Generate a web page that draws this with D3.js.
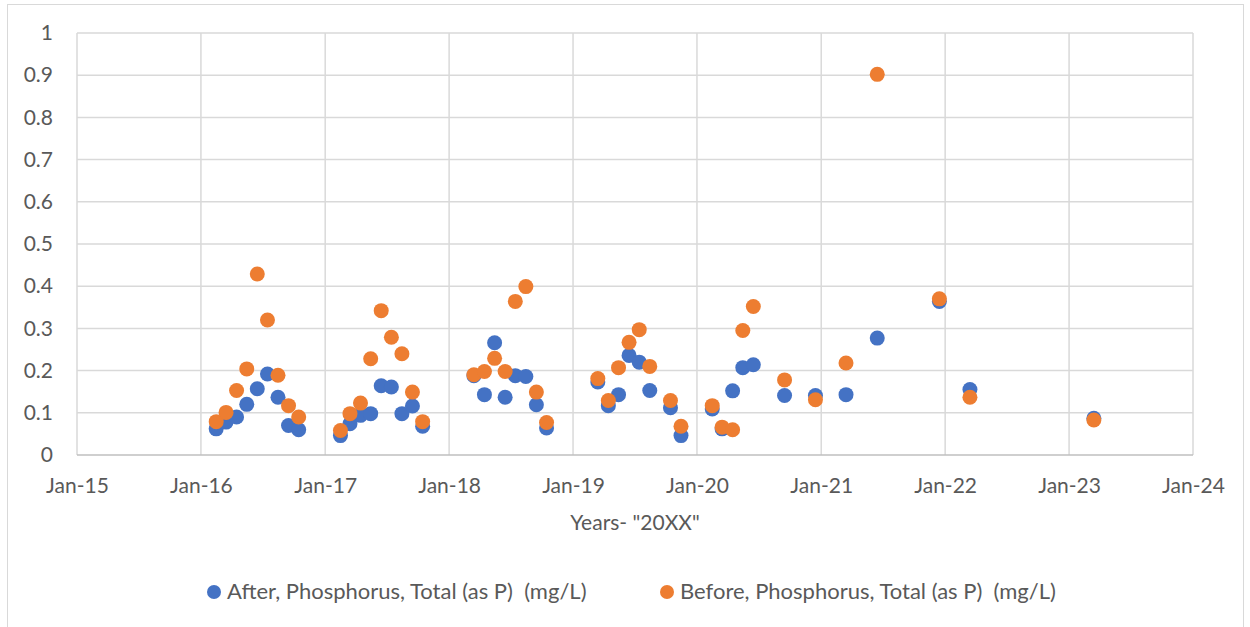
<!DOCTYPE html>
<html>
<head>
<meta charset="utf-8">
<script src="https://cdn.jsdelivr.net/npm/d3@7"></script>
<style>
  body { margin: 0; background: #fff; }
  svg text { font-family: Lato, "Open Sans", sans-serif; fill: #595959; white-space: pre; }
</style>
</head>
<body>
<div id="chart"></div>
<script>
// Sampling months (both series share them)
const sampleDates = [
  '2016-02', '2016-03', '2016-04', '2016-05', '2016-06', '2016-07', '2016-08', '2016-09', '2016-10',
  '2017-02', '2017-03', '2017-04', '2017-05', '2017-06', '2017-07', '2017-08', '2017-09', '2017-10',
  '2018-03', '2018-04', '2018-05', '2018-06', '2018-07', '2018-08', '2018-09', '2018-10',
  '2019-03', '2019-04', '2019-05', '2019-06', '2019-07', '2019-08', '2019-10', '2019-11',
  '2020-02', '2020-03', '2020-04', '2020-05', '2020-06', '2020-09', '2020-12',
  '2021-03', '2021-06', '2021-12',
  '2022-03',
  '2023-03'
];

const afterP = [
  0.062, 0.078, 0.090, 0.120, 0.157, 0.192, 0.137, 0.070, 0.060,
  0.046, 0.074, 0.094, 0.098, 0.164, 0.161, 0.098, 0.116, 0.068,
  0.188, 0.143, 0.266, 0.137, 0.188, 0.186, 0.119, 0.064,
  0.173, 0.117, 0.143, 0.236, 0.220, 0.153, 0.112, 0.046,
  0.109, 0.062, 0.152, 0.207, 0.214, 0.141, 0.141,
  0.143, 0.277, 0.364,
  0.155,
  0.087
];

const beforeP = [
  0.079, 0.101, 0.153, 0.204, 0.429, 0.320, 0.189, 0.117, 0.090,
  0.058, 0.098, 0.123, 0.228, 0.342, 0.279, 0.240, 0.149, 0.079,
  0.190, 0.198, 0.229, 0.198, 0.364, 0.399, 0.149, 0.077,
  0.181, 0.129, 0.207, 0.267, 0.297, 0.210, 0.129, 0.068,
  0.117, 0.066, 0.060, 0.295, 0.352, 0.178, 0.131,
  0.218, 0.902, 0.370,
  0.137,
  0.083
];

const yTicks = [0, 0.1, 0.2, 0.3, 0.4, 0.5, 0.6, 0.7, 0.8, 0.9, 1];
const xTickYears = [2015, 2016, 2017, 2018, 2019, 2020, 2021, 2022, 2023, 2024];

const seriesNames = ['After, Phosphorus, Total (as P)  (mg/L)', 'Before, Phosphorus, Total (as P)  (mg/L)'];
const seriesColors = ['#4472C4', '#ED7D31'];

const W = 1250, H = 627;
const margin = { top: 33, right: 57, bottom: 172, left: 77 };
const width = W - margin.left - margin.right,
  height = H - margin.top - margin.bottom;
const fontSize = '21px';

const parse = d3.timeParse('%Y-%m-%d');
const points = sampleDates.map((m, i) => ({
  date: parse(m + '-15'),
  after: afterP[i],
  before: beforeP[i]
}));

const svg = d3.select('#chart').append('svg')
  .attr('width', W)
  .attr('height', H);

// chart frame
svg.append('rect')
  .attr('x', 7.5).attr('y', 4.5)
  .attr('width', 1236).attr('height', 640)
  .attr('fill', 'none')
  .attr('stroke', '#d9d9d9');

const g = svg.append('g')
  .attr('transform', `translate(${margin.left}, ${margin.top})`);

const x = d3.scaleTime()
  .domain([new Date(2015, 0, 1), new Date(2024, 0, 1)])
  .range([0, width]);
const y = d3.scaleLinear()
  .domain([0, 1])
  .range([height, 0]);

// grid
g.append('g')
  .selectAll('line.h')
  .data(yTicks.slice(1))
  .enter().append('line')
  .attr('x1', 0).attr('x2', width)
  .attr('y1', d => y(d)).attr('y2', d => y(d))
  .attr('stroke', '#d9d9d9').attr('stroke-width', 1.5);

g.append('g')
  .selectAll('line.v')
  .data(xTickYears)
  .enter().append('line')
  .attr('x1', d => x(new Date(d, 0, 1))).attr('x2', d => x(new Date(d, 0, 1)))
  .attr('y1', 0).attr('y2', height)
  .attr('stroke', '#d9d9d9').attr('stroke-width', 1.5);

// axis line
g.append('line')
  .attr('x1', 0).attr('x2', width)
  .attr('y1', height).attr('y2', height)
  .attr('stroke', '#bfbfbf').attr('stroke-width', 1.5);

// axes (labels only)
const yAxis = g.append('g')
  .call(d3.axisLeft(y).tickValues(yTicks).tickFormat(d3.format('~g')).tickSize(0).tickPadding(24));
const xAxis = g.append('g')
  .attr('transform', `translate(0, ${height})`)
  .call(d3.axisBottom(x)
    .tickValues(xTickYears.map(d => new Date(d, 0, 1)))
    .tickFormat(d3.timeFormat('%b-%y'))
    .tickSize(0).tickPadding(23));
[yAxis, xAxis].forEach(a => {
  a.select('.domain').remove();
  a.selectAll('text').style('font-size', fontSize).attr('fill', '#595959')
    .style('font-family', 'Lato, sans-serif');
});

// axis title
g.append('text')
  .attr('x', width / 2).attr('y', height + 75)
  .attr('text-anchor', 'middle')
  .style('font-size', fontSize)
  .text('Years- "20XX"');

// dots: After first, Before on top
['after', 'before'].forEach((key, i) => {
  g.append('g')
    .selectAll('circle')
    .data(points)
    .enter().append('circle')
    .attr('cx', d => x(d.date))
    .attr('cy', d => y(d[key]))
    .attr('r', 7.5)
    .attr('fill', seriesColors[i]);
});

// legend
const legendItems = [
  { x: 214, label: seriesNames[0], color: seriesColors[0] },
  { x: 667, label: seriesNames[1], color: seriesColors[1] }
];
const lg = svg.append('g');
legendItems.forEach(it => {
  lg.append('circle')
    .attr('cx', it.x).attr('cy', 592).attr('r', 7)
    .attr('fill', it.color);
  lg.append('text')
    .attr('x', it.x + 13).attr('y', 599)
    .style('font-size', '22px')
    .text(it.label);
});
</script>
</body>
</html>
